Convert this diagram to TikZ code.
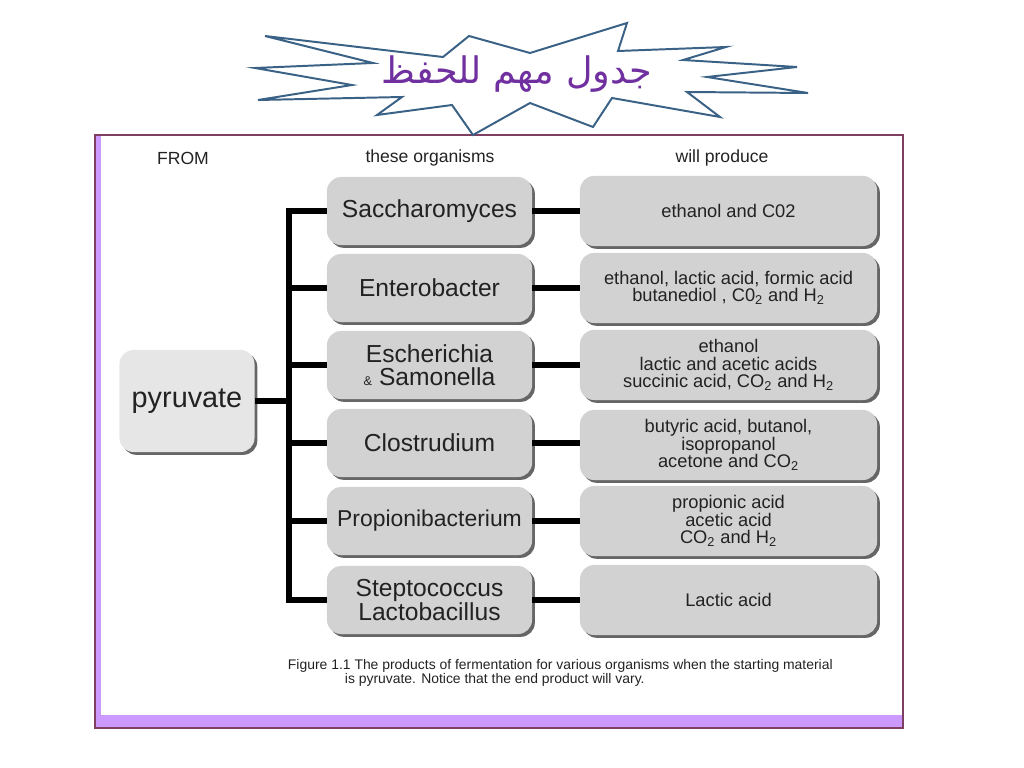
\documentclass[tikz,border=0pt]{standalone}
\usepackage{fontspec}
\usepackage{xcolor}
\usetikzlibrary{shadows,calc}
\setmainfont{Liberation Sans}
\newfontfamily\arabicfont[Script=Arabic]{DejaVu Sans}
\TeXXeTstate=1
\definecolor{ink}{HTML}{222222}
\definecolor{boxgray}{HTML}{D2D2D2}
\definecolor{palegray}{HTML}{E6E6E6}
\definecolor{frameline}{HTML}{7F3F62}
\definecolor{lilac}{HTML}{CC99FF}
\definecolor{starblue}{HTML}{3A6186}
\definecolor{titleviolet}{HTML}{7030A0}

\begin{document}
\begin{tikzpicture}[x=0.025cm, y=-0.025cm,
  organism/.style={fill=boxgray, rounded corners=10pt, minimum width=5.125cm, minimum height=1.7cm, align=center, text=ink, font=\fontsize{17.5}{16}\selectfont, drop shadow={shadow xshift=2pt, shadow yshift=-2pt, fill=black!75, opacity=0.8}},
  product/.style={organism, minimum width=7.425cm, minimum height=1.75cm, font=\fontsize{13}{12.2}\selectfont},
  head/.style={font=\fontsize{12.5}{14}\selectfont, text=ink},
  link/.style={line width=3.6pt, black}
]
  \useasboundingbox (0,0) rectangle (1024,768);

  % slide frame
  \fill[lilac] (95,135) rectangle (101,728);
  \fill[lilac] (95,715) rectangle (903,728);
  \draw[frameline, line width=0.8pt] (95,135) rectangle (903,728);

  % starburst title
  \draw[starblue, line width=1.4pt, fill=white, line join=miter]
    (265,36) -- (443,57) -- (469,36) -- (530,53) -- (627,23) -- (618,51) -- (726,47)
    -- (683,60) -- (797,67) -- (707,77) -- (808,93) -- (687,92) -- (720,117)
    -- (612,98) -- (593,127) -- (530,103) -- (473,135) -- (452,105) -- (377,115)
    -- (402,97) -- (258,100) -- (352,85) -- (255,68) -- (373,63) -- cycle;
  \node[text=titleviolet, font=\fontsize{26}{28}\selectfont] (ttl) at (517,74) {\arabicfont\beginR جدول مهم للحفظ\endR};

  % column headings
  \node[head] (hfrom) at (183,158) {FROM};
  \node[head] (horg) at (430,158) {these organisms};
  \node[head] (hprod) at (722,158) {will produce};

  % start
  \node[organism, fill=palegray, minimum width=3.375cm, minimum height=2.55cm, font=\fontsize{20.5}{22}\selectfont] (pyr) at (187,401) {pyruvate};

  % organisms
  \node[organism] (o1) at (429.5,211) {Saccharomyces};
  \node[organism] (o2) at (429.5,288) {Enterobacter};
  \node[organism] (o3) at (429.5,365) {Escherichia\\{\fontsize{9}{9}\selectfont\&}~Samonella};
  \node[organism] (o4) at (429.5,443) {Clostrudium};
  \node[organism, font=\fontsize{16.3}{16}\selectfont] (o5) at (429.5,521) {Propionibacterium};
  \node[organism] (o6) at (429.5,600) {Steptococcus\\Lactobacillus};

  % products
  \node[product] (p1) at (728.5,211) {ethanol and C02};
  \node[product] (p2) at (728.5,288) {ethanol, lactic acid, formic acid\\butanediol , C0\textsubscript{2} and H\textsubscript{2}};
  \node[product] (p3) at (728.5,365) {ethanol\\lactic and acetic acids\\succinic acid, CO\textsubscript{2} and H\textsubscript{2}};
  \node[product] (p4) at (728.5,445) {butyric acid, butanol,\\isopropanol\\acetone and CO\textsubscript{2}};
  \node[product] (p5) at (728.5,521) {propionic acid\\acetic acid\\CO\textsubscript{2} and H\textsubscript{2}};
  \node[product] (p6) at (728.5,600) {Lactic acid};

  % tree
  \coordinate (tk) at (289,0);
  \draw[link] (pyr.east) -- (pyr.east -| tk);
  \draw[link, line cap=rect] (o1.west -| tk) -- (o6.west -| tk);
  \draw[link] (o1.west -| tk) -- (o1.west);
  \draw[link] (o2.west -| tk) -- (o2.west);
  \draw[link] (o3.west -| tk) -- (o3.west);
  \draw[link] (o4.west -| tk) -- (o4.west);
  \draw[link] (o5.west -| tk) -- (o5.west);
  \draw[link] (o6.west -| tk) -- (o6.west);
  \draw[link] (o1.east) -- (p1.west);
  \draw[link] (o2.east) -- (p2.west);
  \draw[link] (o3.east) -- (p3.west);
  \draw[link] (o4.east) -- (p4.west |- o4.east);
  \draw[link] (o5.east) -- (p5.west);
  \draw[link] (o6.east) -- (p6.west);

  % caption
  \node[anchor=north west, align=left, text=ink, font=\fontsize{9.9}{10}\selectfont] (cap) at (283,654)
    {Figure 1.1 The products of fermentation for various organisms when the starting material\\
     \hspace*{40.5pt}is pyruvate. Notice that the end product will vary.};
\end{tikzpicture}
\end{document}
